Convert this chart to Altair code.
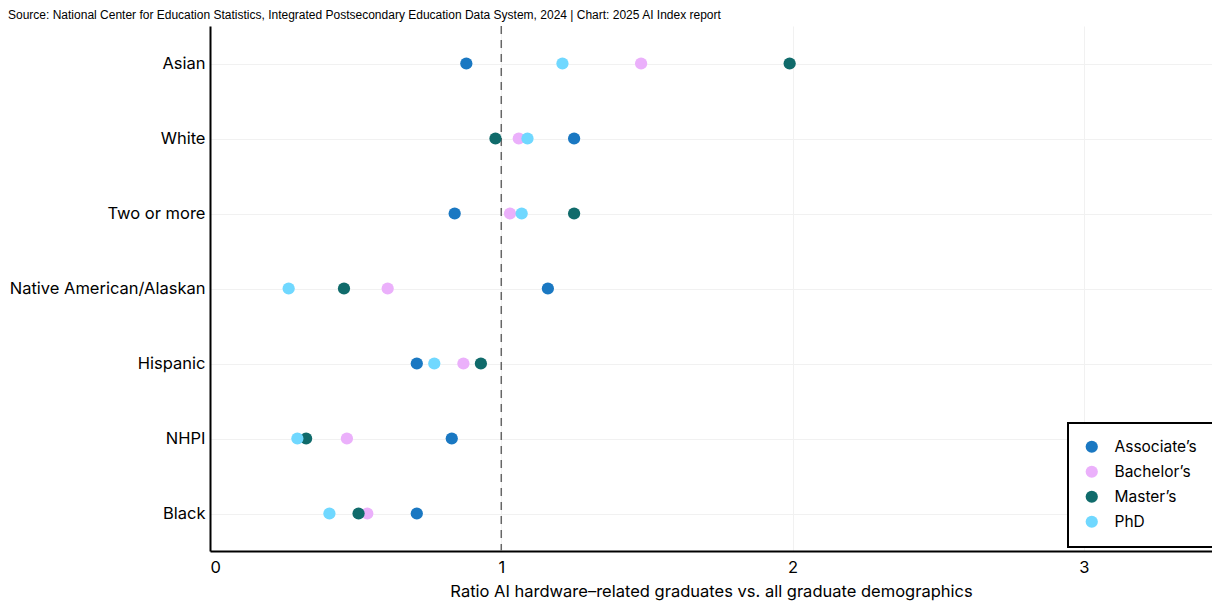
import altair as alt
import pandas as pd

groups = ["Asian", "White", "Two or more", "Native American/Alaskan", "Hispanic", "NHPI", "Black"]
degrees = ["Associate’s", "Bachelor’s", "Master’s", "PhD"]
associates = [0.88, 1.25, 0.84, 1.16, 0.71, 0.83, 0.71]
bachelors = [1.48, 1.06, 1.03, 0.61, 0.87, 0.47, 0.54]
masters = [1.99, 0.98, 1.25, 0.46, 0.93, 0.33, 0.51]
phd = [1.21, 1.09, 1.07, 0.27, 0.77, 0.30, 0.41]
colors = ["#1a78c2", "#ebb0fb", "#106b6b", "#70d8ff"]
x_ticks = [0, 1, 2, 3]
reference = [1]

rows = []
for deg, vals in zip(degrees, [associates, bachelors, masters, phd]):
    for g, v in zip(groups, vals):
        rows.append({"group": g, "degree": deg, "ratio": v})
df = pd.DataFrame(rows)
ref_df = pd.DataFrame({"x": reference})

FONT = "Inter"
FS = 16.5
xscale = alt.Scale(domain=[0, 3.44], nice=False, zero=True)

points = alt.Chart(df).mark_circle(size=150, opacity=1).encode(
    x=alt.X("ratio:Q", scale=xscale,
            axis=alt.Axis(values=x_ticks, format="d",
                          title="Ratio AI hardware–related graduates vs. all graduate demographics",
                          labelPadding=8, titlePadding=8, grid=True)),
    y=alt.Y("group:N", sort=groups, axis=alt.Axis(title=None, labelPadding=5, labelLimit=0, grid=True)),
    color=alt.Color("degree:N", sort=degrees,
                    scale=alt.Scale(domain=degrees, range=colors),
                    legend=alt.Legend(title=None, orient="none", legendX=858, legendY=397,
                                      symbolType="circle", symbolSize=150, symbolOpacity=1,
                                      labelFontSize=15.5, labelFont=FONT, labelColor="black",
                                      rowPadding=8, padding=16, strokeColor="black",
                                      fillColor="white", labelOffset=15, labelLimit=0)),
)

rule = alt.Chart(ref_df).mark_rule(strokeDash=[8, 6], color="#666666", strokeWidth=1.5).encode(
    x=alt.X("x:Q", scale=xscale)
)

chart = alt.layer(rule, points).properties(
    width=1002, height=525,
    autosize=alt.AutoSizeParams(type="none"),
    padding={"left": 202, "top": 18, "right": 0, "bottom": 51},
    title=alt.TitleParams(
        text="Source: National Center for Education Statistics, Integrated Postsecondary Education Data System, 2024 | Chart: 2025 AI Index report",
        anchor="start", frame="group", font="Liberation Sans", fontSize=12, fontWeight="normal", color="black",
        dx=-202, offset=3),
).configure_axis(
    domainColor="black", domainWidth=2, ticks=False, gridColor="#f1f1f1", gridWidth=1,
    labelFont=FONT, labelFontSize=FS, labelColor="black",
    titleFont=FONT, titleFontSize=FS, titleColor="black", titleFontWeight="normal",
).configure_view(stroke=None).configure_legend(strokeWidth=2)

chart.save("out.html", embed_options={"renderer": "svg", "actions": False})
